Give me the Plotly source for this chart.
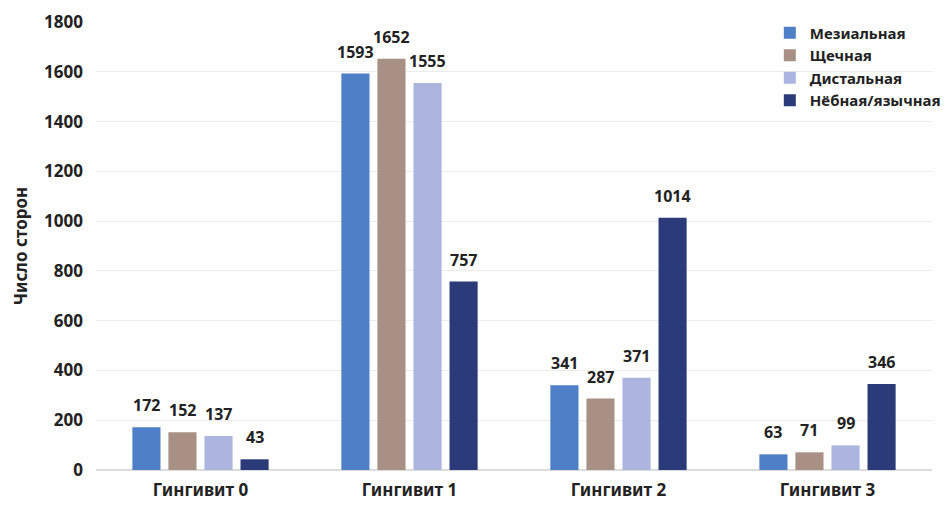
import plotly.graph_objects as go

categories = ["Гингивит 0", "Гингивит 1", "Гингивит 2", "Гингивит 3"]
series_names = ["Мезиальная", "Щечная", "Дистальная", "Нёбная/язычная"]
mesial = [172, 1593, 341, 63]
buccal = [152, 1652, 287, 71]
distal = [137, 1555, 371, 99]
palatal = [43, 757, 1014, 346]
colors = ["#4f7fc6", "#a89184", "#abb5e0", "#2b3a78"]
y_ticks = [0, 200, 400, 600, 800, 1000, 1200, 1400, 1600, 1800]

FONT = "Noto Sans"
TXT = "#222222"
BARGAP = 0.31
GROUPGAP = 0.22
all_series = [mesial, buccal, distal, palatal]

fig = go.Figure()
for name, vals, col in zip(series_names, all_series, colors):
    fig.add_trace(go.Bar(
        x=categories, y=vals, name=name,
        marker=dict(color=col, line=dict(width=0)),
    ))

# value labels placed above each bar, using the group slot geometry
n = len(all_series)
slot = (1 - BARGAP) / n
annotations = []
for j, vals in enumerate(all_series):
    for i, v in enumerate(vals):
        annotations.append(dict(
            x=i + (j - (n - 1) / 2) * slot, y=v, xref="x", yref="y",
            text=str(v), showarrow=False, yanchor="bottom", yshift=9,
            font=dict(family=FONT, size=16, color=TXT, weight="bold"),
        ))

fig.update_layout(
    width=950, height=506,
    margin=dict(l=96, r=18, t=22, b=36, autoexpand=False),
    paper_bgcolor="white", plot_bgcolor="white",
    barmode="group", bargap=BARGAP, bargroupgap=GROUPGAP,
    font=dict(family=FONT, size=16, color=TXT, weight="bold"),
    showlegend=True,
    legend=dict(x=0.806, y=1.012, xanchor="left", yanchor="top",
                font=dict(family=FONT, size=15, color=TXT, weight="bold"),
                bgcolor="rgba(0,0,0,0)", itemwidth=30, tracegroupgap=0),
    annotations=annotations,
    xaxis=dict(showline=False, ticks="", tickfont=dict(size=17, weight="bold"),
               ticklabelstandoff=8),
    yaxis=dict(range=[0, 1800], tickvals=y_ticks, showgrid=True, gridcolor="#ececec",
               gridwidth=1, zeroline=True, zerolinecolor="#dddddd", ticks="",
               tickfont=dict(size=17, weight="bold"), ticklabelstandoff=12,
               title=dict(text="Число сторон", font=dict(size=17, weight="bold"), standoff=12)),
)

fig.write_html("out.html")
